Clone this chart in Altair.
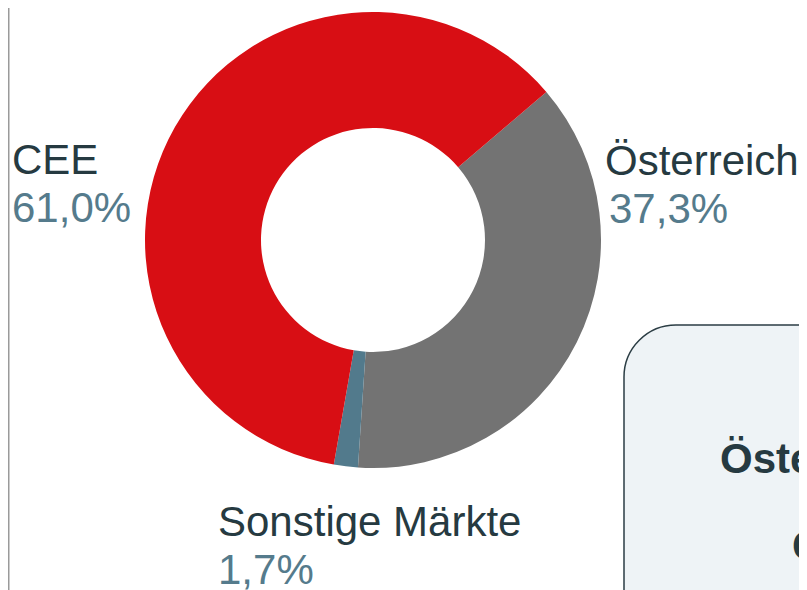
import math
import altair as alt
import pandas as pd

# ---- data ----
categories = ["Österreich", "Sonstige Märkte", "CEE"]
shares = [37.3, 1.7, 61.0]
slice_colors = ["#737373", "#527a8c", "#d80e14"]

box_lines = ["Österreich", "CEE"]

# ---- layout (plot coordinates; page = plot + 8) ----
label_x = [597, 210, 4]
pct_x = [601, 210, 4]
label_y = [167, 528, 166]
LINE_GAP = 48
CX, CY = 365, 232
R_OUT, R_IN = 228, 112
START = math.radians(49.5)

FONT = "Liberation Sans"
DARK = "#263a41"
PCT = "#557b8c"

pct_text = [f"{v:.1f}".replace(".", ",") + "%" for v in shares]

df = pd.DataFrame({
    "cat": categories,
    "share": shares,
    "idx": list(range(len(categories))),
    "pct": pct_text,
    "lx": label_x,
    "px": pct_x,
    "ly": label_y,
    "py": [y + LINE_GAP for y in label_y],
})

base = alt.Chart(df)

donut = base.mark_arc(radius=R_OUT, radius2=R_IN).encode(
    theta=alt.Theta("share:Q", stack=True,
                    scale=alt.Scale(domain=[0, 100], range=[START, START + 2 * math.pi])),
    color=alt.Color("cat:N", scale=alt.Scale(domain=categories, range=slice_colors), legend=None),
    order=alt.Order("idx:Q"),
    x=alt.value(CX),
    y=alt.value(CY),
)

names = base.mark_text(align="left", baseline="alphabetic", fontSize=42, font=FONT, color=DARK).encode(
    x=alt.X("lx:Q", scale=None), y=alt.Y("ly:Q", scale=None), text="cat:N")

pcts = base.mark_text(align="left", baseline="alphabetic", fontSize=42, font=FONT, color=PCT).encode(
    x=alt.X("px:Q", scale=None), y=alt.Y("py:Q", scale=None), text="pct:N")

one = alt.Data(values=[{}])

vline = alt.Chart(one).mark_rule(color="#9a9a9a", strokeWidth=1.5).encode(
    x=alt.value(0.75), y=alt.value(0), y2=alt.value(600))

box = alt.Chart(one).mark_rect(cornerRadius=52, fill="#eef3f6", stroke="#2b3d44", strokeWidth=1.5).encode(
    x=alt.value(616), x2=alt.value(1100), y=alt.value(317), y2=alt.value(1000))

box_df = pd.DataFrame({"t": box_lines, "bx": [712, 784], "by": [465, 552]})
box_text = alt.Chart(box_df).mark_text(align="left", baseline="alphabetic", fontSize=42,
                                       fontWeight="bold", font=FONT, color=DARK).encode(
    x=alt.X("bx:Q", scale=None), y=alt.Y("by:Q", scale=None), text="t:N")

chart = alt.layer(vline, donut, names, pcts, box, box_text).properties(
    width=791, height=582,
    autosize=alt.AutoSizeParams(type="none"),
    padding=0,
).configure_view(stroke=None)

chart.save("out.html", embed_options={"renderer": "svg", "actions": False})
